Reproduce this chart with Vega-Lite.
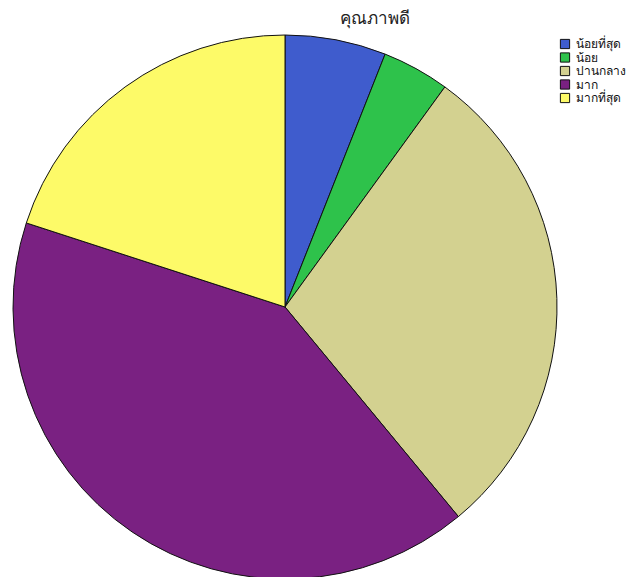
{
  "$schema": "https://vega.github.io/schema/vega-lite/v6.json",
  "width": 544,
  "height": 544,
  "autosize": {"type": "none"},
  "padding": {"left": 13, "top": 35, "right": 69, "bottom": 0},
  "background": "white",
  "title": {
    "text": "คุณภาพดี",
    "anchor": "middle",
    "dx": 90,
    "offset": 5,
    "fontSize": 17,
    "fontWeight": "normal",
    "font": "DejaVu Sans",
    "color": "#222222"
  },
  "data": {
    "values": [
      {"level": "น้อยที่สุด", "order": 1, "count": 6},
      {"level": "น้อย", "order": 2, "count": 4},
      {"level": "ปานกลาง", "order": 3, "count": 29},
      {"level": "มาก", "order": 4, "count": 41},
      {"level": "มากที่สุด", "order": 5, "count": 20}
    ]
  },
  "mark": {"type": "arc", "outerRadius": 272, "stroke": "#111111", "strokeWidth": 1},
  "encoding": {
    "theta": {"field": "count", "type": "quantitative", "stack": true},
    "order": {"field": "order", "type": "quantitative"},
    "color": {
      "field": "level",
      "type": "nominal",
      "scale": {
        "domain": ["น้อยที่สุด", "น้อย", "ปานกลาง", "มาก", "มากที่สุด"],
        "range": ["#3f5ccd", "#2ec24b", "#d3d190", "#7a2182", "#fdfa68"]
      },
      "legend": {
        "title": null,
        "orient": "none",
        "legendX": 546,
        "legendY": 3,
        "symbolType": "square",
        "symbolSize": 85,
        "symbolStrokeColor": "#111111",
        "symbolStrokeWidth": 1,
        "labelFontSize": 12,
        "labelFont": "DejaVu Sans",
        "labelColor": "#111111",
        "rowPadding": -0.5,
        "labelOffset": 5,
        "labelLimit": 200
      }
    }
  }
}
